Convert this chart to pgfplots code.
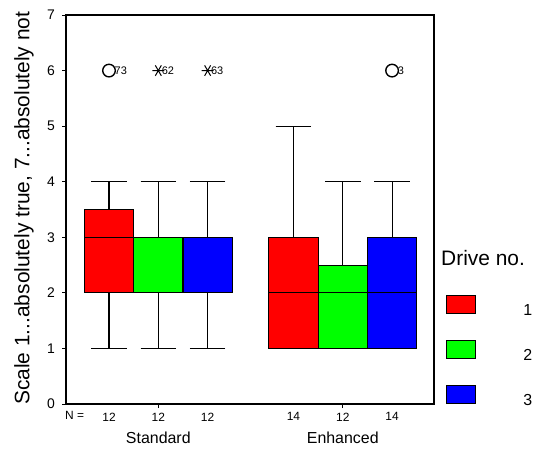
\documentclass[border=0pt]{standalone}
\usepackage{pgfplots}
\pgfplotsset{compat=1.18}
\usepgfplotslibrary{statistics}
\usepackage{fontspec}
\setmainfont{Liberation Sans}
\newcommand{\nf}{\fontsize{12}{12}\selectfont}
\begin{document}
\begin{tikzpicture}
\path[use as bounding box] (0,0) rectangle (536bp,456bp);
\begin{axis}[
  at={(66bp,52bp)}, anchor=south west,
  scale only axis, width=368bp, height=389bp,
  xmin=0.128, xmax=7.59, ymin=0, ymax=7,
  clip=false,
  axis line style={line width=1.1pt},
  /pgf/number format/assume math mode=true,
  ytick={0,1,2,3,4,5,6,7}, ytick pos=left, xtick pos=bottom,
  tick align=outside, major tick length=4bp,
  tick style={line width=1pt, black},
  y tick label style={font=\fontsize{14}{14}\selectfont, inner sep=0pt, xshift=-7bp},
  xtick={2,5.74}, xticklabels={Standard,Enhanced},
  x tick label style={font=\fontsize{16}{16}\selectfont, inner sep=0pt, yshift=-24bp},
  extra x ticks={1,2,3,4.74,5.74,6.74},
  extra x tick labels={\nf 12,\nf 12,\nf 12,\nf 14,\nf 12,\nf 14},
  extra x tick style={major tick length=0pt, grid=none, tick label style={yshift=15.5bp}},
  ylabel={Scale 1...absolutely true, 7...absolutely not},
  ylabel style={font=\fontsize{21}{21}\selectfont, at={(rel axis cs:-0.1144,0.503)}, anchor=center, rotate=0},
  legend image code/.code={\draw[#1] (0bp,-3.3bp) rectangle (29bp,14.7bp);},
  legend style={at={(rel axis cs:1.0326,0.28)}, anchor=north west, draw=none, fill=none,
    inner sep=0pt, row sep=21.5bp, font=\fontsize{16}{16}\selectfont},
  boxplot/draw direction=y,
]
% Standard
\addplot[forget plot, fill=red, draw=black, line width=1.1pt, boxplot prepared={draw position=1, lower whisker=1, lower quartile=2, median=3, upper quartile=3.5, upper whisker=4, box extend=1, whisker extend=0.72}] coordinates {};
\addplot[forget plot, fill=green, draw=black, line width=1.1pt, boxplot prepared={draw position=2, lower whisker=1, lower quartile=2, median=3, upper quartile=3, upper whisker=4, box extend=1, whisker extend=0.72}] coordinates {};
\addplot[forget plot, fill=blue, draw=black, line width=1.1pt, boxplot prepared={draw position=3, lower whisker=1, lower quartile=2, median=3, upper quartile=3, upper whisker=4, box extend=1, whisker extend=0.72}] coordinates {};
% Enhanced
\addplot[forget plot, fill=red, draw=black, line width=1.1pt, boxplot prepared={draw position=4.74, lower whisker=1, lower quartile=1, median=2, upper quartile=3, upper whisker=5, box extend=1, whisker extend=0.72}] coordinates {};
\addplot[forget plot, fill=green, draw=black, line width=1.1pt, boxplot prepared={draw position=5.74, lower whisker=1, lower quartile=1, median=2, upper quartile=2.5, upper whisker=4, box extend=1, whisker extend=0.72}] coordinates {};
\addplot[forget plot, fill=blue, draw=black, line width=1.1pt, boxplot prepared={draw position=6.74, lower whisker=1, lower quartile=1, median=2, upper quartile=3, upper whisker=4, box extend=1, whisker extend=0.72}] coordinates {};
% outliers
\addplot[forget plot, black, only marks, mark=o, mark size=6.3bp, mark options={line width=1.4pt},
  point meta=explicit symbolic, nodes near coords,
  nodes near coords style={anchor=west, inner sep=0pt, xshift=5bp, font=\fontsize{11}{11}\selectfont, text=black}]
  coordinates {(1,6) [73] (6.74,6) [3]};
\addplot[forget plot, black, only marks, mark=asterisk, mark size=6bp, mark options={rotate=90, line width=1pt},
  point meta=explicit symbolic, nodes near coords,
  nodes near coords style={anchor=west, inner sep=0pt, xshift=3bp, font=\fontsize{11}{11}\selectfont, text=black}]
  coordinates {(2,6) [62] (3,6) [63]};
% legend
\addlegendimage{fill=red, draw=black, line width=1.1pt}
\addlegendentry{\makebox[54bp][r]{1}}
\addlegendimage{fill=green, draw=black, line width=1.1pt}
\addlegendentry{\makebox[54bp][r]{2}}
\addlegendimage{fill=blue, draw=black, line width=1.1pt}
\addlegendentry{\makebox[54bp][r]{3}}
\node[anchor=west, inner sep=0pt, font=\fontsize{21}{21}\selectfont] at (rel axis cs:1.019,0.3753) {Drive no.};
\node[anchor=west, inner sep=0pt, font=\fontsize{12}{12}\selectfont] at (rel axis cs:-0.003,0) [yshift=-11bp] {N =};
\end{axis}
\end{tikzpicture}
\end{document}
